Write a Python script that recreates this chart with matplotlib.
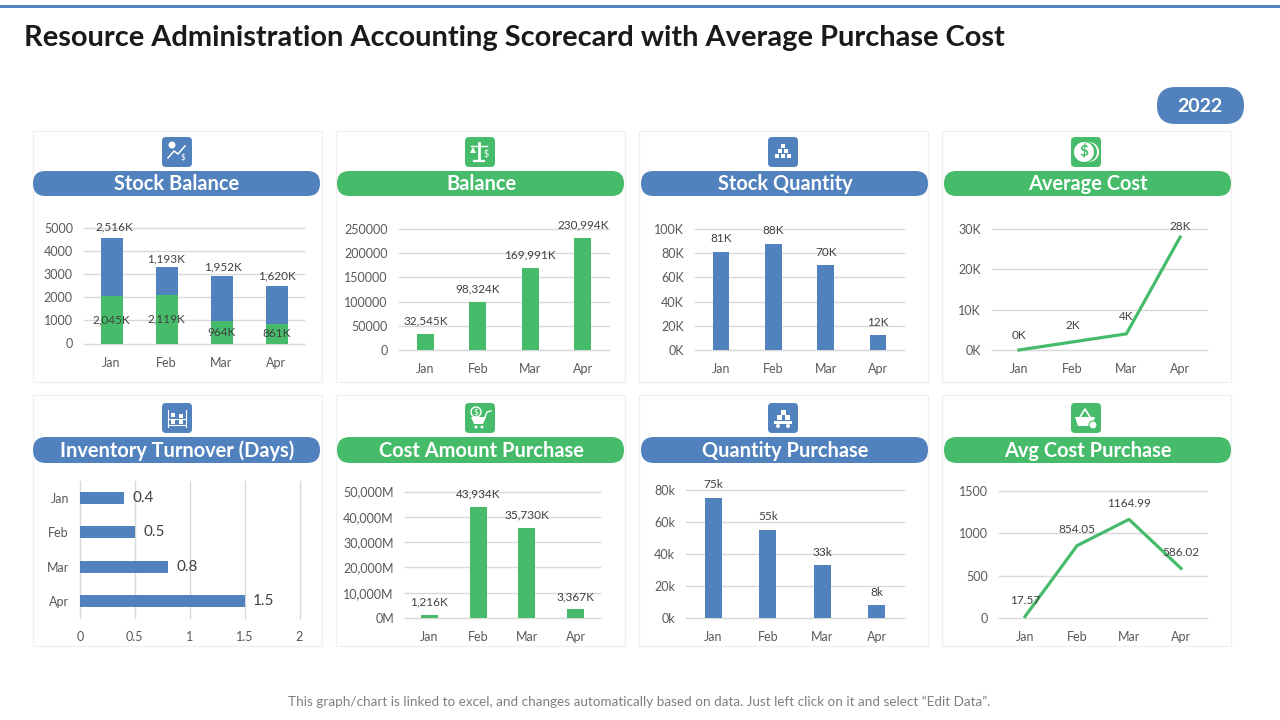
import matplotlib
matplotlib.use("Agg")
import matplotlib.pyplot as plt
from matplotlib.patches import Rectangle, FancyBboxPatch, Circle, Polygon

# --- data ---
months = ["Jan", "Feb", "Mar", "Apr"]
stock_green = [2045, 2119, 964, 861]
stock_blue = [2516, 1193, 1952, 1620]
balance = [32545, 98324, 169991, 230994]
stock_qty = [81, 88, 70, 12]
avg_cost = [0, 2, 4, 28]
turnover = [0.4, 0.5, 0.8, 1.5]
cost_amount = [1216, 43934, 35730, 3367]
qty_purchase = [75, 55, 33, 8]
avg_purchase = [17.57, 854.05, 1164.99, 586.02]

BLUE = "#5282BE"
GREEN = "#46BC6B"
GRID = "#D9D9D9"
TXT = "#404040"
TICK = "#595959"
W, H = 1280, 720

plt.rcParams["font.family"] = ["Lato", "DejaVu Sans"]
fig = plt.figure(figsize=(12.8, 7.2), dpi=100)

# full page overlay in pixels, y going down
bg = fig.add_axes([0, 0, 1, 1])
bg.set_xlim(0, W)
bg.set_ylim(H, 0)
bg.axis("off")


def pill(x0, y0, x1, y1, color, z=2):
    r = (y1 - y0) / 2
    bg.add_patch(FancyBboxPatch((x0 + r, y0 + r), x1 - x0 - 2 * r, 0, mutation_aspect=1,
                                boxstyle=f"round,pad={r},rounding_size={r}",
                                fc=color, ec="none", zorder=z))


def icon_box(cx, cy, color):
    bg.add_patch(FancyBboxPatch((cx - 12, cy - 12), 24, 24, boxstyle="round,pad=3,rounding_size=4",
                                fc=color, ec="none", zorder=3))


def boxes(pts, s=4):
    for x, y in pts:
        bg.add_patch(Rectangle((x - s / 2, y - s / 2), s, s, fc="white", ec="none", zorder=4))


def draw_icon(kind, cx, cy, color):
    icon_box(cx, cy, color)
    if kind == "trend":
        bg.add_patch(Circle((cx - 5, cy - 7), 3.5, fc="white", ec="none", zorder=4))
        bg.plot([cx - 9, cx - 3, cx + 1, cx + 8], [cy + 6, cy - 1, cy + 2, cy - 6], color="white", lw=1.1, zorder=4)
        bg.text(cx + 6, cy + 5, "$", color="white", fontsize=6, ha="center", va="center", zorder=4)
    elif kind == "scale":
        bg.plot([cx - 1, cx - 1], [cy - 9, cy + 8], color="white", lw=2, zorder=4)
        bg.plot([cx - 9, cx + 7], [cy - 6, cy - 6], color="white", lw=1, zorder=4)
        bg.plot([cx - 6, cx + 4], [cy + 9, cy + 9], color="white", lw=1.6, zorder=4)
        bg.add_patch(Polygon([[cx - 10, cy + 1], [cx - 4, cy + 1], [cx - 7, cy - 5]], fc="white", zorder=4))
        bg.text(cx + 6, cy + 2, "$", color="white", fontsize=6.5, ha="center", va="center", zorder=4)
    elif kind == "pyramid":
        boxes([(cx, cy - 6), (cx - 3, cy - 1), (cx + 3, cy - 1),
               (cx - 6, cy + 4), (cx, cy + 4), (cx + 6, cy + 4)], 4.6)
    elif kind == "coin":
        bg.add_patch(Circle((cx + 3, cy), 10, fc="white", ec="none", zorder=4))
        bg.add_patch(Circle((cx + 1, cy), 10, fc=color, ec="none", zorder=4))
        bg.add_patch(Circle((cx - 2, cy), 10, fc="white", ec="none", zorder=4))
        bg.text(cx - 2, cy, "$", color=color, fontsize=11, fontweight="bold", ha="center", va="center", zorder=5)
    elif kind == "shelf":
        boxes([(cx - 4, cy - 3), (cx + 4, cy - 2), (cx - 4, cy + 4), (cx + 4, cy + 4)], 4.6)
        bg.plot([cx - 9, cx + 9], [cy + 7, cy + 7], color="white", lw=0.8, zorder=4)
        bg.plot([cx - 9, cx + 9], [cy + 1, cy + 1], color="white", lw=0.8, zorder=4)
        bg.plot([cx - 9, cx - 9], [cy - 8, cy + 9], color="white", lw=0.8, zorder=4)
        bg.plot([cx + 9, cx + 9], [cy - 8, cy + 9], color="white", lw=0.8, zorder=4)
    elif kind == "cart":
        bg.add_patch(Circle((cx - 4, cy - 6), 5, fc="none", ec="white", lw=1, zorder=4))
        bg.text(cx - 4, cy - 6, "$", color="white", fontsize=6, ha="center", va="center", zorder=4)
        bg.add_patch(Polygon([[cx - 9, cy - 1], [cx + 6, cy - 1], [cx + 3, cy + 6], [cx - 6, cy + 6]], fc="white", zorder=4))
        bg.plot([cx + 5, cx + 7, cx + 11], [cy - 1, cy - 6, cy - 7], color="white", lw=1, zorder=4)
        bg.add_patch(Circle((cx - 4, cy + 9), 1.5, fc="white", zorder=4))
        bg.add_patch(Circle((cx + 2, cy + 9), 1.5, fc="white", zorder=4))
    elif kind == "trolley":
        boxes([(cx, cy - 6), (cx - 4, cy - 1), (cx + 4, cy - 1)], 5)
        bg.add_patch(Rectangle((cx - 9, cy + 3), 18, 3, fc="white", zorder=4))
        bg.add_patch(Circle((cx - 5, cy + 8), 2, fc="white", zorder=4))
        bg.add_patch(Circle((cx + 5, cy + 8), 2, fc="white", zorder=4))
    elif kind == "basket":
        bg.add_patch(Polygon([[cx - 11, cy - 1], [cx + 9, cy - 1], [cx + 6, cy + 8], [cx - 8, cy + 8]], fc="white", zorder=4))
        bg.plot([cx - 6, cx - 1, cx + 4], [cy - 1, cy - 9, cy - 1], color="white", lw=1.2, zorder=4)
        bg.add_patch(Circle((cx + 7, cy + 7), 4, fc="white", ec=color, lw=0.8, zorder=5))


def chart_axes(x0, y_top, x1, y_bot):
    ax = fig.add_axes([x0 / W, 1 - y_bot / H, (x1 - x0) / W, (y_bot - y_top) / H])
    ax.patch.set_alpha(0)
    for s in ax.spines.values():
        s.set_visible(False)
    ax.set_axisbelow(True)
    ax.tick_params(length=0, labelsize=9, labelcolor=TICK)
    return ax


def column_axes(box, ylim, yticks, yticklabels):
    ax = chart_axes(*box)
    ax.set_xlim(-0.5, 3.5)
    ax.set_ylim(*ylim)
    ax.set_xticks(range(4), months)
    ax.set_yticks(yticks, yticklabels)
    ax.grid(axis="y", color=GRID, lw=1, clip_on=False)
    ax.spines["bottom"].set_visible(True)
    ax.spines["bottom"].set_color(GRID)
    ax.tick_params(axis="x", pad=9.4)
    ax.tick_params(axis="y", pad=8)
    return ax


def put_labels(ax, xs, ys, labels, dy=13, size=8.5, dx=(0, 0, 0, 0)):
    # dy/dx are pixel nudges above the mark, dy may be one number or one per label
    dys = dy if isinstance(dy, (list, tuple)) else [dy] * len(labels)
    for x, y, lab, d, e in zip(xs, ys, labels, dys, dx):
        ax.annotate(lab, (x, y), xytext=(e * 0.72, d * 0.72), textcoords="offset points",
                    ha="center", va="center", fontsize=size, color=TXT, annotation_clip=False, zorder=6)


def column_chart(box, values, color, ylim, yticks, yticklabels, labels, width=0.32):
    ax = column_axes(box, ylim, yticks, yticklabels)
    ax.bar(range(4), values, width=width, color=color, zorder=3)
    put_labels(ax, range(4), values, labels)


def line_chart(box, values, ylim, yticks, yticklabels, labels, dy=16):
    ax = column_axes(box, ylim, yticks, yticklabels)
    ax.plot(range(4), values, color=GREEN, lw=2.3, zorder=3, clip_on=False)
    put_labels(ax, range(4), values, labels, dy=dy)


# page furniture
bg.add_patch(Rectangle((0, 5), W, 3, fc=BLUE, ec="none"))
bg.text(24, 38, "Resource Administration Accounting Scorecard with Average Purchase Cost",
        fontsize=20.9, fontweight="bold", color="#1A1A1A", va="center", ha="left")
pill(1157, 87, 1244, 124, BLUE)
bg.text(1200, 106, "2022", color="white", fontsize=14, fontweight="bold", ha="center", va="center", zorder=4)
bg.text(639, 702, "This graph/chart is linked to excel, and changes automatically based on data. Just left click on it and select \u201cEdit Data\u201d.",
        fontsize=9.7, color="#7F7F7F", ha="center", va="center")

card_x = [33, 336, 639, 942]
pill_x = [33, 337, 641, 944]
row_y = [(131, 382, 171, 196, 152), (395, 646, 437, 463, 418)]
titles = [["Stock Balance", "Balance", "Stock Quantity", "Average Cost"],
          ["Inventory Turnover (Days)", "Cost Amount Purchase", "Quantity Purchase", "Avg Cost Purchase"]]
icons = [["trend", "scale", "pyramid", "coin"], ["shelf", "cart", "trolley", "basket"]]
for r, (top, bot, p0, p1, ic) in enumerate(row_y):
    for c, x in enumerate(card_x):
        color = BLUE if c % 2 == 0 else GREEN
        px = pill_x[c]
        bg.add_patch(Rectangle((x, top), 288.5, bot - top, fc="white", ec="#F0F0F0", lw=1, zorder=1))
        pill(px, p0, px + 287, p1, color)
        bg.text(px + 144, (p0 + p1) / 2 + 0.8, titles[r][c], color="white", fontsize=14.4, fontweight="bold",
                ha="center", va="center", zorder=4)
        draw_icon(icons[r][c], x + 144, ic, color)

# Stock Balance
ax = column_axes((84, 228, 304, 343.5), (0, 5000), range(0, 5001, 1000), [str(v) for v in range(0, 5001, 1000)])
ax.bar(range(4), stock_green, width=0.4, color=GREEN, zorder=3)
ax.bar(range(4), stock_blue, width=0.4, bottom=stock_green, color=BLUE, zorder=3)
tops = [g + b for g, b in zip(stock_green, stock_blue)]
put_labels(ax, range(4), tops, [f"{v:,}K" for v in stock_blue], dy=[11, 8, 9, 10], dx=(3, 0, 1, 0))
put_labels(ax, range(4), [g / 2 for g in stock_green], [f"{v:,}K" for v in stock_green], dy=0)

# Balance
column_chart((399, 229, 609, 350), balance, GREEN, (0, 250000), range(0, 250001, 50000),
             [str(v) for v in range(0, 250001, 50000)], [f"{v:,}K" for v in balance])

# Stock Quantity
column_chart((695, 229, 904, 350), stock_qty, BLUE, (0, 100), range(0, 101, 20),
             [f"{v}K" for v in range(0, 101, 20)], [f"{v}K" for v in stock_qty])

# Average Cost
line_chart((992, 229, 1207, 350), avg_cost, (0, 30), range(0, 31, 10),
           [f"{v}K" for v in range(0, 31, 10)], [f"{v}K" for v in avg_cost], dy=[15, 16, 17, 11])

# Inventory Turnover
ax = chart_axes(80, 481, 299.5, 618)
ax.set_xlim(0, 2)
ax.set_ylim(3.5, -0.5)
ax.set_yticks(range(4), months)
ax.set_xticks([0, 0.5, 1, 1.5, 2], ["0", "0.5", "1", "1.5", "2"])
ax.grid(axis="x", color=GRID, lw=1, clip_on=False)
ax.tick_params(axis="x", pad=9.5)
ax.tick_params(axis="y", pad=8)
ax.barh(range(4), turnover, height=0.35, color=BLUE, zorder=3)
for i, v in enumerate(turnover):
    ax.annotate(str(v), (v, i), xytext=(6, 0), textcoords="offset points", va="center",
                fontsize=11, color=TXT, zorder=6)

# Cost Amount Purchase
column_chart((405, 491.5, 600, 618), cost_amount, GREEN, (0, 50000), range(0, 50001, 10000),
             ["0M"] + [f"{v:,}M" for v in range(10000, 50001, 10000)], [f"{v:,}K" for v in cost_amount], width=0.35)

# Quantity Purchase
column_chart((686, 490, 904, 618), qty_purchase, BLUE, (0, 80), range(0, 81, 20),
             ["0k"] + [f"{v}k" for v in range(20, 81, 20)], [f"{v}k" for v in qty_purchase])

# Avg Cost Purchase
line_chart((999, 491, 1207, 618), avg_purchase, (0, 1500), range(0, 1501, 500),
           [str(v) for v in range(0, 1501, 500)], [str(v) for v in avg_purchase])

fig.savefig("out.png", dpi=100)
